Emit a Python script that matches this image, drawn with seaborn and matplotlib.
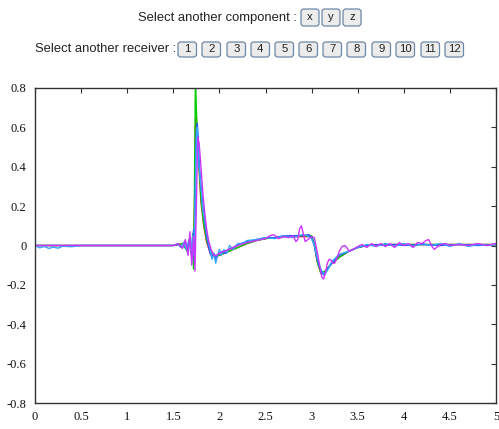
import numpy as np
import pandas as pd
import seaborn as sns
import matplotlib
matplotlib.use("Agg")
import matplotlib.pyplot as plt
from matplotlib.patches import FancyBboxPatch

# ---------------- data ----------------
components = ["x", "y", "z"]
receivers = ["1", "2", "3", "4", "5", "6", "7", "8", "9", "10", "11", "12"]
x_ticks = [0, 0.5, 1, 1.5, 2, 2.5, 3, 3.5, 4, 4.5, 5]
x_tick_labels = ["0", "0.5", "1", "1.5", "2", "2.5", "3", "3.5", "4", "4.5", "5"]
y_ticks = [-0.8, -0.6, -0.4, -0.2, 0, 0.2, 0.4, 0.6, 0.8]
y_tick_labels = ["-0.8", "-0.6", "-0.4", "-0.2", "0", "0.2", "0.4", "0.6", "0.8"]

t_red = [0, 1.5, 1.6, 1.65, 1.68, 1.7, 1.72, 1.73, 1.74, 1.75, 1.76, 1.78, 1.8, 1.83, 1.86, 1.9,
         1.95, 2.0, 2.1, 2.2, 2.3, 2.4, 2.5, 2.6, 2.7, 2.8, 2.9, 3.0, 3.03, 3.06, 3.1, 3.15, 3.2,
         3.3, 3.4, 3.5, 3.6, 3.8, 4.0, 4.5, 5.0]
v_red = [0, 0, 0.01, -0.02, 0.04, -0.05, 0.05, 0.2, 0.6, 0.65, 0.55, 0.38, 0.22, 0.1, 0.02, -0.04,
         -0.06, -0.05, -0.03, -0.01, 0.01, 0.025, 0.035, 0.04, 0.045, 0.045, 0.045, 0.045, 0.0, -0.08,
         -0.14, -0.13, -0.1, -0.06, -0.03, -0.01, 0.0, 0.005, 0.005, 0.005, 0.005]

t_green = [0, 1.5, 1.6, 1.65, 1.68, 1.7, 1.71, 1.72, 1.73, 1.74, 1.75, 1.76, 1.78, 1.8, 1.83, 1.86,
           1.9, 1.95, 2.0, 2.1, 2.2, 2.3, 2.4, 2.5, 2.6, 2.7, 2.8, 2.9, 3.0, 3.03, 3.06, 3.1, 3.15,
           3.2, 3.3, 3.4, 3.5, 3.6, 3.8, 4.0, 4.5, 5.0]
v_green = [0, 0, 0.01, -0.03, 0.03, -0.05, 0.06, -0.12, 0.3, 0.85, 0.7, 0.55, 0.4, 0.24, 0.11, 0.03,
           -0.03, -0.05, -0.05, -0.03, -0.01, 0.01, 0.025, 0.035, 0.04, 0.045, 0.05, 0.05, 0.05, 0.01,
           -0.08, -0.14, -0.13, -0.1, -0.06, -0.03, -0.01, 0.0, 0.005, 0.005, 0.005, 0.005]

t_blue = [0, 1.5, 1.55, 1.6, 1.63, 1.66, 1.68, 1.7, 1.72, 1.73, 1.74, 1.75, 1.76, 1.77, 1.78, 1.8,
          1.82, 1.84, 1.86, 1.88, 1.9, 1.92, 1.94, 1.96, 1.98, 2.0, 2.03, 2.06, 2.1, 2.15, 2.2, 2.3,
          2.4, 2.5, 2.6, 2.7, 2.8, 2.9, 2.97, 3.0, 3.03, 3.06, 3.1, 3.13, 3.17, 3.22, 3.3, 3.4, 3.5,
          3.6, 3.7, 3.8, 3.9, 4.0, 4.2, 4.4, 4.6, 4.8, 5.0]
v_blue = [0, 0, 0.005, -0.01, 0.02, -0.03, 0.04, -0.06, 0.08, -0.08, 0.35, 0.58, 0.62, 0.55, 0.42, 0.3,
          0.2, 0.12, 0.05, 0.0, -0.04, -0.06, -0.04, -0.07, -0.05, -0.04, -0.03, -0.04, -0.02, -0.01,
          0.005, 0.02, 0.03, 0.04, 0.04, 0.05, 0.05, 0.05, 0.055, 0.04, 0.0, -0.07, -0.13, -0.15, -0.12,
          -0.09, -0.05, -0.03, -0.01, 0.0, 0.005, 0.0, 0.005, 0.0, 0.005, 0.0, 0.005, 0.0, 0.005]

t_lblue = [0, 0.05, 0.1, 0.15, 0.2, 0.25, 0.3, 0.4, 0.5, 1.5, 1.55, 1.58, 1.61, 1.64, 1.67, 1.69,
           1.71, 1.72, 1.73, 1.74, 1.75, 1.76, 1.77, 1.78, 1.8, 1.82, 1.84, 1.86, 1.88, 1.9, 1.92,
           1.94, 1.96, 1.98, 2.0, 2.02, 2.05, 2.08, 2.11, 2.15, 2.2, 2.25, 2.3, 2.4, 2.5, 2.6, 2.7,
           2.8, 2.9, 2.95, 3.0, 3.03, 3.06, 3.1, 3.14, 3.18, 3.22, 3.3, 3.4, 3.5, 3.6, 3.7, 3.8, 3.9,
           4.0, 4.1, 4.2, 4.3, 4.4, 4.5, 4.6, 4.7, 4.8, 4.9, 5.0]
v_lblue = [0, -0.012, -0.005, -0.015, -0.008, -0.014, -0.004, -0.006, 0, 0, 0.01, -0.01, 0.015, -0.02,
           0.03, -0.04, 0.05, -0.05, 0.1, 0.3, 0.55, 0.6, 0.5, 0.4, 0.3, 0.18, 0.13, 0.07, 0.02, -0.02,
           -0.07, -0.04, -0.09, -0.05, -0.02, -0.05, -0.02, -0.04, 0.0, -0.02, 0.01, 0.01, 0.025, 0.03,
           0.04, 0.035, 0.05, 0.04, 0.055, 0.05, 0.035, 0.0, -0.06, -0.12, -0.15, -0.12, -0.08, -0.045,
           -0.03, -0.01, 0.005, -0.005, 0.01, -0.005, 0.01, -0.005, 0.01, 0.0, 0.01, -0.005, 0.01,
           -0.005, 0.005, 0.0, 0.005]

t_mag = [0, 1.5, 1.55, 1.6, 1.63, 1.66, 1.68, 1.7, 1.72, 1.735, 1.75, 1.765, 1.78, 1.8, 1.82, 1.84,
         1.86, 1.88, 1.91, 1.94, 1.97, 2.0, 2.05, 2.1, 2.2, 2.3, 2.4, 2.5, 2.55, 2.59, 2.64, 2.7,
         2.75, 2.8, 2.83, 2.85, 2.87, 2.89, 2.91, 2.93, 2.96, 3.0, 3.03, 3.06, 3.09, 3.11, 3.13, 3.15,
         3.17, 3.19, 3.21, 3.23, 3.25, 3.27, 3.3, 3.33, 3.36, 3.38, 3.41, 3.45, 3.5, 3.55, 3.6, 3.65,
         3.7, 3.75, 3.8, 3.85, 3.9, 3.95, 4.0, 4.05, 4.1, 4.15, 4.2, 4.24, 4.27, 4.3, 4.33, 4.37, 4.4,
         4.45, 4.5, 4.6, 4.7, 4.8, 4.9, 5.0]
v_mag = [0, 0, 0.01, -0.015, 0.03, -0.05, 0.07, -0.1, 0.05, -0.13, 0.2, 0.55, 0.52, 0.4, 0.27, 0.17,
         0.09, 0.03, -0.02, -0.05, -0.05, -0.04, -0.03, -0.02, 0.0, 0.015, 0.025, 0.035, 0.05, 0.055,
         0.035, 0.045, 0.04, 0.05, 0.02, 0.03, 0.085, 0.1, 0.06, 0.02, 0.03, 0.045, 0.04, -0.03, -0.11,
         -0.16, -0.17, -0.14, -0.09, -0.07, -0.075, -0.09, -0.09, -0.07, -0.03, -0.005, 0.0, -0.01,
         -0.03, -0.02, -0.005, 0.005, -0.01, 0.01, -0.005, 0.01, -0.005, 0.01, -0.01, 0.015, 0.0, 0.01,
         -0.01, 0.015, 0.01, 0.025, 0.03, 0.0, -0.02, -0.005, 0.005, 0.01, 0.0, 0.005, 0.0, 0.01, 0.0,
         0.01]

series = [
    ("red", t_red, v_red, "#ff2020"),
    ("green", t_green, v_green, "#00cc00"),
    ("blue", t_blue, v_blue, "#2a4dff"),
    ("lightblue", t_lblue, v_lblue, "#33a8ff"),
    ("magenta", t_mag, v_mag, "#cc33ff"),
]

# ---------------- figure ----------------
sns.set_theme(style="white")
plt.rcParams["font.family"] = ["Liberation Sans", "DejaVu Sans"]

W, H = 499, 429
fig = plt.figure(figsize=(W / 100, H / 100), dpi=100)
fig.patch.set_facecolor("white")

ax = fig.add_axes([35 / W, 1 - 403 / H, (496 - 35) / W, (403 - 88) / H])

for name, t, v, col in series:
    df = pd.DataFrame({"t": t, "v": v})
    sns.lineplot(data=df, x="t", y="v", ax=ax, color=col, linewidth=1.0,
                 estimator=None, sort=False, legend=False)

ax.set_xlim(0, 5)
ax.set_ylim(-0.8, 0.8)
ax.set_xlabel("")
ax.set_ylabel("")
ax.set_xticks(x_ticks)
ax.set_xticklabels(x_tick_labels)
ax.set_yticks(y_ticks)
ax.set_yticklabels(y_tick_labels)
ax.tick_params(direction="in", length=3.5, width=0.8, color="#333333",
               top=True, right=True, labelsize=9, labelcolor="#111111", pad=6)
for lab in ax.get_xticklabels() + ax.get_yticklabels():
    lab.set_family("Liberation Serif")
for sp in ax.spines.values():
    sp.set_color("#333333")
    sp.set_linewidth(1.0)
ax.grid(False)
ax.set_facecolor("white")

# ---------------- header ----------------
def px2fig(x, y):
    return x / W, 1 - y / H

def button(x0, x1, y0, y1, label):
    fx0, fy1 = px2fig(x0, y1)
    fx1, fy0 = px2fig(x1, y0)
    box = FancyBboxPatch((fx0, fy1), fx1 - fx0, fy0 - fy1,
                         boxstyle="round,pad=0,rounding_size=0.006",
                         transform=fig.transFigure, facecolor="#ececec",
                         edgecolor="#6d87a8", linewidth=0.9)
    fig.add_artist(box)
    cx, cy = px2fig((x0 + x1) / 2, (y0 + y1) / 2)
    fig.text(cx, cy, label, ha="center", va="center", fontsize=8.2, color="#222222")

fx, fy = px2fig(297, 17.5)
fig.text(fx, fy, "Select another component :", ha="right", va="center",
         fontsize=9.4, color="#222222")
comp_x = [301, 322, 343]
for xs, lab in zip(comp_x, components):
    button(xs, xs + 18, 9, 26, lab)

fx, fy = px2fig(176, 49.5)
fig.text(fx, fy, "Select another receiver :", ha="right", va="center",
         fontsize=9.4, color="#222222")
rec_x = [178, 202, 227, 251, 275, 299, 323, 347, 372, 396, 421, 445]
for xs, lab in zip(rec_x, receivers):
    button(xs, xs + 18.5, 42, 57, lab)

fig.savefig("out.png", dpi=100, facecolor="white")
